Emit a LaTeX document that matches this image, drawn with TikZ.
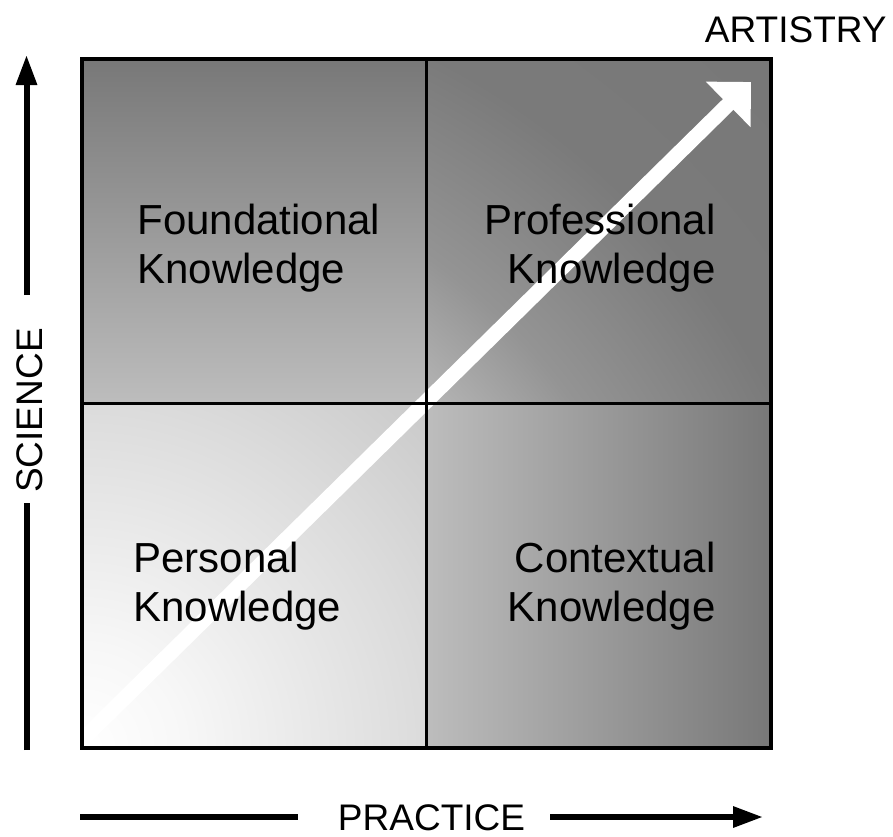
\documentclass[tikz,border=0pt]{standalone}
\usepackage{fontspec}
\setmainfont{Liberation Sans}
\usetikzlibrary{arrows.meta}

\definecolor{quaddark}{gray}{0.47}
\definecolor{quadmid}{gray}{0.74}
\definecolor{lightA}{gray}{0.97}
\definecolor{lightB}{gray}{0.86}
\definecolor{lightC}{gray}{0.79}
\definecolor{darkA}{gray}{0.71}
\definecolor{darkB}{gray}{0.58}
\definecolor{darkC}{gray}{0.48}
\definecolor{darkD}{gray}{0.47}

\pgfdeclareradialshading{cornerlight}{\pgfpointorigin}{color(0bp)=(white); color(2.5bp)=(lightA); color(8.6bp)=(lightB); color(12.2bp)=(lightC); color(50bp)=(lightC)}
\pgfdeclareradialshading{cornerdark}{\pgfpointorigin}{color(0bp)=(darkA); color(12.2bp)=(darkA); color(15bp)=(darkB); color(19.3bp)=(darkC); color(24.4bp)=(darkD); color(50bp)=(darkD)}

\tikzset{
    axis/.style={line width=3pt},
    axistip/.style={-{Triangle[length=15pt,width=10pt]}},
    axislabel/.style={font=\fontsize{18.5}{22}\selectfont, inner sep=0pt},
    quadlabel/.style={font=\fontsize{21}{24.5}\selectfont, inner sep=0pt},
}

\begin{document}
\begin{tikzpicture}[x=0.5pt, y=-0.5pt]
    \useasboundingbox (0, 0) rectangle (893, 836);
    \coordinate (nw) at (82, 58.5);
    \coordinate (ne) at (770.5, 58.5);
    \coordinate (sw) at (82, 747.5);
    \coordinate (se) at (770.5, 747.5);
    \coordinate (mid) at (426.5, 403.5);

    % quadrant shading
    \shade[top color=quaddark, bottom color=quadmid] (nw) rectangle (mid);
    \shade[left color=quadmid, right color=quaddark] (mid) rectangle (se);
    \begin{scope}
        \clip (sw) rectangle (mid);
        \shade[shading=cornerlight] (sw) circle (500pt);
    \end{scope}
    \begin{scope}
        \clip (mid) rectangle (ne);
        \shade[shading=cornerdark] (sw) circle (500pt);
    \end{scope}

    % white diagonal arrow
    \coordinate (artFoot) at (85, 737);
    \coordinate (artTip) at (751, 82);
    \draw[white, line width=7.5pt, -{Triangle[length=16pt,width=31pt]}] (artFoot) -- (artTip);

    % grid
    \draw[line width=1.75pt] (mid |- nw) -- (mid |- se) (nw |- mid) -- (se |- mid);
    \draw[line width=2pt] (nw) rectangle (se);

    % axes
    \coordinate (sciFoot) at (26.5, 750);
    \coordinate (sciLo) at (26.5, 503);
    \coordinate (sciHi) at (26.5, 295);
    \coordinate (sciTip) at (26.5, 55);
    \coordinate (pracFoot) at (80, 817);
    \coordinate (pracLo) at (298, 817);
    \coordinate (pracHi) at (550, 817);
    \coordinate (pracTip) at (763, 817);
    \foreach \a/\b in {sciFoot/sciLo, pracFoot/pracLo} {
        \draw[axis] (\a) -- (\b);
    }
    \foreach \a/\b in {sciHi/sciTip, pracHi/pracTip} {
        \draw[axis, axistip] (\a) -- (\b);
    }
    \node[axislabel, rotate=90, anchor=base] (science) at (42, 410.5) {SCIENCE};
    \node[axislabel, anchor=base] (practice) at (431.5, 830) {PRACTICE};
    \node[axislabel, anchor=base east] (artistry) at (887, 42) {ARTISTRY};

    % quadrant labels
    \node[quadlabel, align=left, anchor=north west] (found) at (137, 204) {Foundational\\Knowledge};
    \node[quadlabel, align=right, anchor=north east] (prof) at (716, 204) {Professional\\Knowledge};
    \node[quadlabel, align=left, anchor=north west] (pers) at (133, 542) {Personal\\Knowledge};
    \node[quadlabel, align=right, anchor=north east] (context) at (716, 542) {Contextual\\Knowledge};
\end{tikzpicture}
\end{document}
